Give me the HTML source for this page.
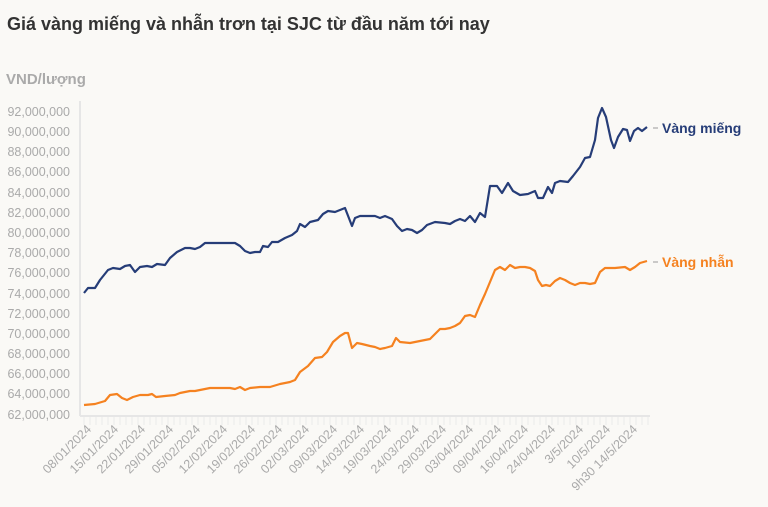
<!DOCTYPE html>
<html><head><meta charset="utf-8"><style>
body{margin:0;background:#faf9f6;}
svg{display:block;font-family:"Liberation Sans","DejaVu Sans",sans-serif;}
</style></head><body>
<svg width="768" height="507" viewBox="0 0 768 507">
<rect width="768" height="507" fill="#faf9f6"/>
<text x="7" y="30" font-size="18" font-weight="bold" fill="#333">Giá vàng miếng và nhẫn trơn tại SJC từ đầu năm tới nay</text>
<text x="6" y="84" font-size="15" font-weight="bold" fill="#aaa">VND/lượng</text>
<g font-size="12.5" fill="#aaa" text-anchor="end">
<text x="70" y="116">92,000,000</text><text x="70" y="136">90,000,000</text><text x="70" y="156">88,000,000</text><text x="70" y="176">86,000,000</text><text x="70" y="197">84,000,000</text><text x="70" y="217">82,000,000</text><text x="70" y="237">80,000,000</text><text x="70" y="257">78,000,000</text><text x="70" y="277">76,000,000</text><text x="70" y="298">74,000,000</text><text x="70" y="318">72,000,000</text><text x="70" y="338">70,000,000</text><text x="70" y="358">68,000,000</text><text x="70" y="378">66,000,000</text><text x="70" y="398">64,000,000</text><text x="70" y="419">62,000,000</text>
</g>
<line x1="80" y1="101" x2="80" y2="416" stroke="#e6e6e6" stroke-width="2"/>
<line x1="80" y1="416" x2="650" y2="416" stroke="#e6e6e6" stroke-width="2"/>
<path d="M84 417V425M90 417V425M96 417V425M102 417V425M108 417V425M114 417V425M120 417V425M126 417V425M132 417V425M138 417V425M144 417V425M150 417V425M156 417V425M162 417V425M168 417V425M174 417V425M180 417V425M186 417V425M192 417V425M198 417V425M204 417V425M210 417V425M216 417V425M222 417V425M228 417V425M234 417V425M240 417V425M246 417V425M252 417V425M258 417V425M264 417V425M270 417V425M276 417V425M282 417V425M288 417V425M294 417V425M300 417V425M306 417V425M312 417V425M318 417V425M324 417V425M330 417V425M336 417V425M342 417V425M348 417V425M354 417V425M360 417V425M366 417V425M372 417V425M378 417V425M384 417V425M390 417V425M396 417V425M402 417V425M408 417V425M414 417V425M420 417V425M426 417V425M432 417V425M438 417V425M444 417V425M450 417V425M456 417V425M462 417V425M468 417V425M474 417V425M480 417V425M486 417V425M492 417V425M498 417V425M504 417V425M510 417V425M516 417V425M522 417V425M528 417V425M534 417V425M540 417V425M546 417V425M552 417V425M558 417V425M564 417V425M570 417V425M576 417V425M582 417V425M588 417V425M594 417V425M600 417V425M606 417V425M612 417V425M618 417V425M624 417V425M630 417V425M636 417V425M642 417V425M648 417V425" stroke="#eaeaea" stroke-width="1"/>
<g font-size="12.5" fill="#aaa" text-anchor="end">
<text transform="translate(92,430) rotate(-45)">08/01/2024</text>
<text transform="translate(119,430) rotate(-45)">15/01/2024</text>
<text transform="translate(146,430) rotate(-45)">22/01/2024</text>
<text transform="translate(174,430) rotate(-45)">29/01/2024</text>
<text transform="translate(201,430) rotate(-45)">05/02/2024</text>
<text transform="translate(228,430) rotate(-45)">12/02/2024</text>
<text transform="translate(256,430) rotate(-45)">19/02/2024</text>
<text transform="translate(283,430) rotate(-45)">26/02/2024</text>
<text transform="translate(310,430) rotate(-45)">02/03/2024</text>
<text transform="translate(338,430) rotate(-45)">09/03/2024</text>
<text transform="translate(365,430) rotate(-45)">14/03/2024</text>
<text transform="translate(392,430) rotate(-45)">19/03/2024</text>
<text transform="translate(420,430) rotate(-45)">24/03/2024</text>
<text transform="translate(447,430) rotate(-45)">29/03/2024</text>
<text transform="translate(474,430) rotate(-45)">03/04/2024</text>
<text transform="translate(502,430) rotate(-45)">09/04/2024</text>
<text transform="translate(529,430) rotate(-45)">16/04/2024</text>
<text transform="translate(556,430) rotate(-45)">24/04/2024</text>
<text transform="translate(584,430) rotate(-45)">3/5/2024</text>
<text transform="translate(611,430) rotate(-45)">10/5/2024</text>
<text transform="translate(638,430) rotate(-45)">9h30 14/5/2024</text>
</g>
<polyline fill="none" stroke="#263d78" stroke-width="2.2" stroke-linejoin="round" points="84,293 88,288 95,288 100,280 108,270 113,268 120,269 125,266 130,265 135,272 140,267 147,266 152,267 157,264 165,265 170,258 177,252 185,248 190,248 195,249 200,247 205,243 215,243 225,243 235,243 240,246 245,251 250,253 255,252 260,252 263,246 268,247 272,242 278,242 285,238 292,235 297,231 300,224 305,227 310,222 318,220 323,214 328,211 335,212 340,210 345,208 352,226 355,218 360,216 370,216 375,216 380,218 385,216 392,219 397,226 402,231 407,229 412,230 417,233 422,230 427,225 435,222 445,223 450,224 455,221 460,219 465,221 470,216 475,222 480,213 485,217 490,186 497,186 502,193 508,183 513,191 520,195 528,194 535,191 538,198 543,198 548,187 552,193 555,183 560,181 568,182 573,176 580,167 585,158 590,157 595,140 598,118 602,108 606,117 611,140 614,148 618,137 623,129 627,130 630,141 634,131 638,128 642,131 647,127"/>
<polyline fill="none" stroke="#f58220" stroke-width="2.2" stroke-linejoin="round" points="84,405 95,404 105,401 110,395 117,394 122,398 127,400 133,397 140,395 148,395 152,394 156,397 165,396 175,395 180,393 185,392 190,391 195,391 200,390 205,389 210,388 220,388 230,388 235,389 240,387 245,390 250,388 260,387 270,387 280,384 290,382 295,380 300,372 308,366 315,358 322,357 327,352 333,342 340,336 345,333 348,333 352,348 357,343 362,344 370,346 375,347 380,349 385,348 392,346 396,338 400,342 410,343 420,341 430,339 435,334 440,329 445,329 450,328 455,326 460,323 465,316 470,315 475,317 480,305 485,294 490,282 495,270 500,267 505,270 510,265 515,268 520,267 525,267 530,268 535,271 538,280 542,286 546,285 550,286 555,281 560,278 565,280 570,283 575,285 580,283 585,283 590,284 595,283 600,272 605,268 615,268 625,267 630,270 635,267 640,263 647,261"/>
<line x1="653" y1="128" x2="658" y2="128" stroke="#999"/>
<text x="662" y="133" font-size="14" font-weight="bold" fill="#263d78">Vàng miếng</text>
<line x1="653" y1="262" x2="658" y2="262" stroke="#999"/>
<text x="662" y="267" font-size="14" font-weight="bold" fill="#f58220">Vàng nhẫn</text>
</svg>
</body></html>
